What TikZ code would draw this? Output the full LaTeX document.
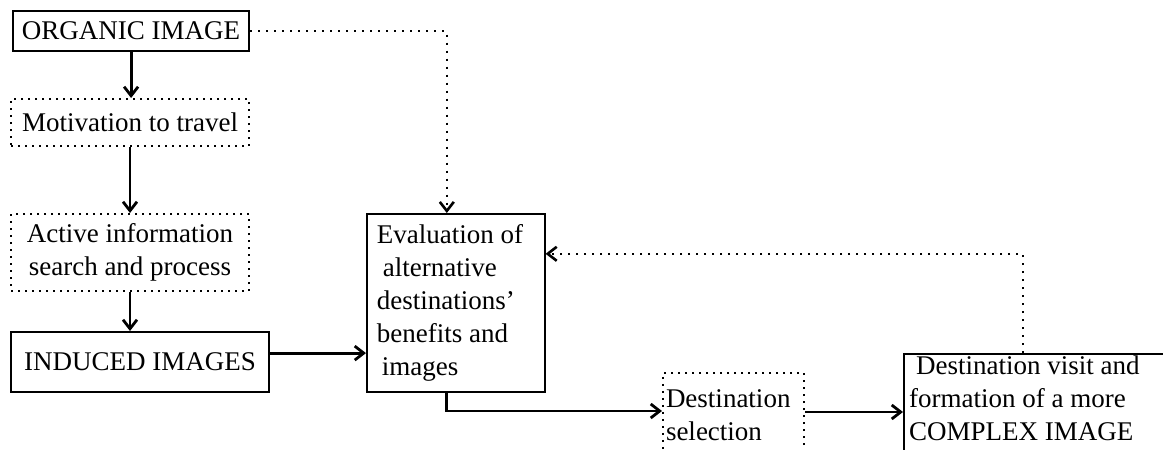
\documentclass[tikz,border=0pt]{standalone}
\usepackage{fontspec}
\setmainfont{Liberation Serif}
\usetikzlibrary{arrows.meta,calc}

\tikzset{
  solidbox/.style={draw, line width=1.1pt, anchor=north west, inner sep=0pt},
  dotbox/.style={draw, line width=1pt, dash pattern=on 1pt off 2.5pt, anchor=north west, inner sep=0pt},
  arr/.style={line width=1.4pt, -{Straight Barb[length=4.5pt,width=7pt]}},
  dotarr/.style={line width=1pt, dash pattern=on 1pt off 3pt, -{Straight Barb[length=4.5pt,width=7pt,line width=1.3pt]}}
}

\begin{document}
\begin{tikzpicture}[x=0.5pt, y=-0.5pt, font=\fontsize{13.5}{16.5}\selectfont]
\useasboundingbox (0,0) rectangle (1163,450);

% left column
\node[solidbox, minimum width=118pt, minimum height=20pt] (organic) at (12,10) {ORGANIC IMAGE};
\node[dotbox, minimum width=119pt, minimum height=23.5pt] (motiv) at (10,98) {Motivation to travel};
\node[dotbox, minimum width=119pt, minimum height=38.5pt, align=center] (active) at (10,213) {Active information\\search and process};
\node[solidbox, minimum width=129pt, minimum height=30pt] (induced) at (10,331) {INDUCED IMAGES};

% middle and right
\node[solidbox, line width=0.8pt, text width=79pt, inner xsep=5pt, minimum height=89pt, align=flush left] (eval) at (366,213)
  {Evaluation of\\\hspace*{3pt}alternative\\destinations'\\benefits and\\\hspace*{2.5pt}images};
\node[dotbox, inner xsep=1.5pt, inner ysep=8.3pt] (sel) at (662,372)
  {\parbox[t][40pt][t]{67.5pt}{Destination\\selection}};
\node[solidbox, inner xsep=2.5pt, inner ysep=1pt] (cplx) at (903,353)
  {\parbox[t][50pt][t]{135pt}{\hspace*{3.5pt}Destination visit and\\formation of a more\\COMPLEX IMAGE}};

\coordinate (indout) at ([yshift=4.5pt]induced.east);
\coordinate (selin) at ([yshift=-19.5pt]sel.north west);
\coordinate (selout) at ([yshift=-20pt]sel.north east);
\coordinate (back) at ([xshift=60pt]cplx.north west);

% connectors
\draw[arr] (organic.south) -- (organic.south |- motiv.north);
\draw[arr] (motiv.south) -- (motiv.south |- active.north);
\draw[arr] (active.south) -- (active.south |- induced.north);
\draw[arr] (indout) -- (indout -| eval.west);
\draw[dotarr] (organic.east) -| ([xshift=-4.5pt]eval.north);
\draw[arr] ([xshift=-4.5pt]eval.south) |- (selin);
\draw[arr] (selout) -- (selout -| cplx.west);
\draw[dotarr] (back) |- ([yshift=24.5pt]eval.east);
\end{tikzpicture}
\end{document}
